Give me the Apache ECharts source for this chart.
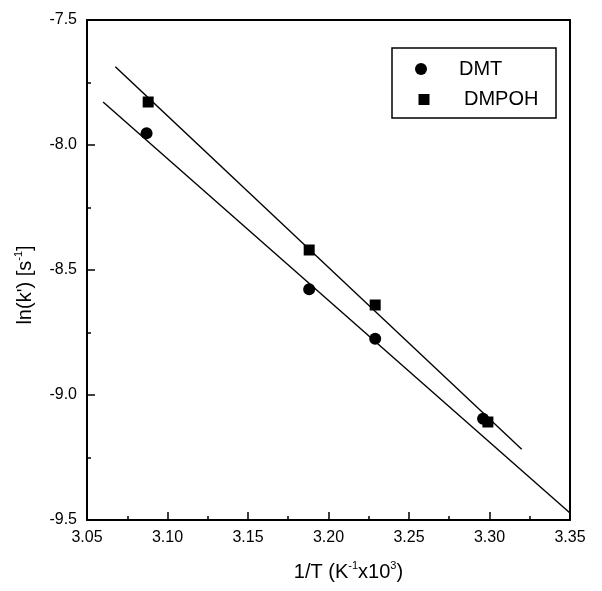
<!DOCTYPE html>
<html><head><meta charset="utf-8">
<script src="https://cdn.jsdelivr.net/npm/echarts@6/dist/echarts.min.js"></script>
<style>html,body{margin:0;padding:0;background:#fff}#c{width:602px;height:591px}</style>
</head><body><div id="c"></div>
<script>
// measured points
const dmtX = [3.087, 3.188, 3.229, 3.296];
const dmtY = [-7.953, -8.577, -8.775, -9.095];
const dmpohX = [3.088, 3.188, 3.229, 3.299];
const dmpohY = [-7.828, -8.420, -8.640, -9.108];
// linear fit lines (end points as drawn)
const dmtFitX = [3.060, 3.350];
const dmtFitY = [-7.828, -9.472];
const dmpohFitX = [3.0676, 3.320];
const dmpohFitY = [-7.687, -9.217];
const seriesNames = ['DMT', 'DMPOH'];

const zip = (xs, ys) => xs.map((x, i) => [x, ys[i]]);
const FONT = 'Liberation Sans, Arial, sans-serif';
const axisLine = { show: true, onZero: false, lineStyle: { color: '#000', width: 2 } };

const chart = echarts.init(document.getElementById('c'), null, { renderer: 'canvas' });
chart.setOption({
  animation: false,
  backgroundColor: '#fff',
  grid: { left: 87, top: 20, right: 32, bottom: 71 },
  xAxis: [{
    type: 'value', min: 3.05, max: 3.35, interval: 0.05, position: 'bottom',
    axisLine: axisLine,
    axisTick: { show: true, inside: true, length: 8, lineStyle: { color: '#000', width: 1.5 } },
    minorTick: { show: true, splitNumber: 2, length: 4, lineStyle: { color: '#000', width: 1.5 } },
    splitLine: { show: false },
    axisLabel: { color: '#000', fontSize: 16, fontFamily: FONT, margin: 10, formatter: v => v.toFixed(2) },
    name: '{a|1/T (K}{s|-1}{a|x10}{s|3}{a|)}',
    nameLocation: 'middle', nameGap: 40,
    nameTextStyle: {
      padding: [0, 0, 0, 40],
      rich: {
        a: { fontSize: 20, fontFamily: FONT, color: '#000', lineHeight: 22, verticalAlign: 'bottom' },
        s: { fontSize: 11, fontFamily: FONT, color: '#000', lineHeight: 22, verticalAlign: 'top' }
      }
    }
  }, {
    type: 'value', min: 3.05, max: 3.35, position: 'top',
    axisLine: axisLine, axisTick: { show: false }, axisLabel: { show: false }, splitLine: { show: false }
  }],
  yAxis: [{
    type: 'value', min: -9.5, max: -7.5, interval: 0.5, position: 'left',
    axisLine: axisLine,
    axisTick: { show: true, inside: true, length: 8, lineStyle: { color: '#000', width: 1.5 } },
    minorTick: { show: true, splitNumber: 2, length: 4, lineStyle: { color: '#000', width: 1.5 } },
    splitLine: { show: false },
    axisLabel: { color: '#000', fontSize: 16, fontFamily: FONT, margin: 10, formatter: v => v.toFixed(1) },
    name: "{a|ln(k') [s}{s|-1}{a|]}",
    nameLocation: 'middle', nameGap: 52, nameRotate: 90,
    nameTextStyle: {
      padding: [0, 30, 0, 0],
      rich: {
        a: { fontSize: 20, fontFamily: FONT, color: '#000', lineHeight: 22, verticalAlign: 'bottom' },
        s: { fontSize: 11, fontFamily: FONT, color: '#000', lineHeight: 22, verticalAlign: 'top' }
      }
    }
  }, {
    type: 'value', min: -9.5, max: -7.5, position: 'right',
    axisLine: axisLine, axisTick: { show: false }, axisLabel: { show: false }, splitLine: { show: false }
  }],
  legend: [{
    data: [{ name: seriesNames[0], icon: 'circle' }],
    left: 415, top: 59, itemWidth: 12, itemHeight: 12, padding: 0,
    textStyle: { fontSize: 20, fontFamily: FONT, color: '#000', padding: [0, 0, 0, 27] }
  }, {
    data: [{ name: seriesNames[1], icon: 'rect' }],
    left: 418.5, top: 89.5, itemWidth: 11, itemHeight: 11, padding: 0,
    textStyle: { fontSize: 20, fontFamily: FONT, color: '#000', padding: [0, 0, 0, 29.5] }
  }],
  graphic: [{
    type: 'rect', shape: { x: 392, y: 48, width: 164, height: 70 },
    style: { fill: 'none', stroke: '#000', lineWidth: 1.5 }, silent: true
  }],
  series: [
    { name: 'DMT fit', type: 'line', data: zip(dmtFitX, dmtFitY), showSymbol: false,
      lineStyle: { color: '#000', width: 1.4 }, z: 2 },
    { name: 'DMPOH fit', type: 'line', data: zip(dmpohFitX, dmpohFitY), showSymbol: false,
      lineStyle: { color: '#000', width: 1.4 }, z: 2 },
    { name: seriesNames[0], type: 'scatter', data: zip(dmtX, dmtY), symbol: 'circle', symbolSize: 12,
      itemStyle: { color: '#000', opacity: 1 }, z: 3 },
    { name: seriesNames[1], type: 'scatter', data: zip(dmpohX, dmpohY), symbol: 'rect', symbolSize: 11,
      itemStyle: { color: '#000', opacity: 1 }, z: 3 }
  ]
});
</script>
</body></html>
